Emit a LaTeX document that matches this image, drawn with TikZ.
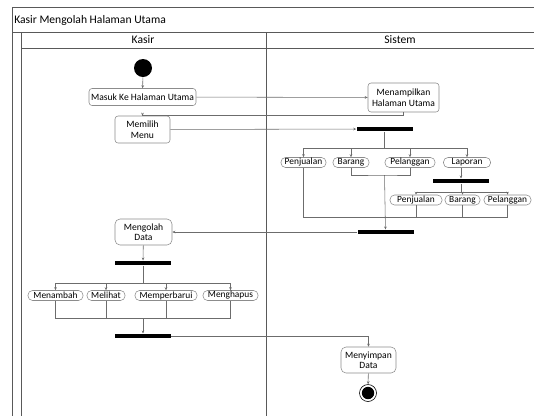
\documentclass[tikz,border=0pt]{standalone}
\usepackage{fontspec}
\setmainfont{Carlito}
\usepackage{tikz}
\usetikzlibrary{arrows.meta,positioning}

\tikzset{
  act/.style={draw=gray!90,rounded corners=3pt,fill=white,align=center,inner sep=1pt,font=\fontsize{9.6}{10.5}\selectfont},
  opt/.style={draw=gray!90,rounded corners=4.5pt,fill=white,inner sep=0pt,minimum height=10pt,font=\fontsize{9.4}{10}\selectfont},
  bar/.style={fill=black,inner sep=0pt,minimum width=56pt,minimum height=4.5pt},
  frame/.style={draw=black!65,line width=0.6pt},
}

\begin{document}
\begin{tikzpicture}[x=1pt,y=-1pt,->,>={Stealth[length=3pt,width=2.6pt]},line width=0.55pt,draw=gray!85!black]
  \useasboundingbox (0,0) rectangle (534,416);
  % frame and lanes
  \draw[-,frame] (534,7) -- (12,7) -- (12,416);
  \draw[-,frame] (12,32) -- (534,32);
  \draw[-,frame] (21,32) -- (21,416);
  \draw[-,frame] (21,48) -- (534,48);
  \draw[-,frame] (266,32) -- (266,416);
  \node[anchor=west,inner sep=1pt,font=\fontsize{11.6}{12}\selectfont] (title) at (13,20) {Kasir Mengolah Halaman Utama};
  \node[font=\fontsize{11.6}{12}\selectfont] (kasir) at (143,40) {Kasir};
  \node[font=\fontsize{11.6}{12}\selectfont] (sistem) at (400,40) {Sistem};

  % kasir lane
  \node[circle,fill=black,inner sep=0pt,minimum size=18pt] (start) at (143,68) {};
  \node[act,minimum width=107pt,minimum height=17pt] (masuk) at (142.5,97) {Masuk Ke Halaman Utama};
  \node[act,minimum width=55pt,minimum height=27pt] (pilih) at (142.5,129.5) {Memilih\\Menu};
  \node[act,rounded corners=5pt,minimum width=57pt,minimum height=26pt] (olah) at (143.5,232) {Mengolah\\Data};
  \node[bar] (f3) at (143,263) {};
  \node[opt,minimum width=55pt] (tambah) at (55.5,295.5) {Menambah};
  \node[opt,minimum width=38pt] (lihat) at (106,295.5) {Melihat};
  \node[opt,minimum width=62pt] (ubah) at (166,295.5) {Memperbarui};
  \node[opt,minimum width=55pt] (hapus) at (230.5,295.5) {Menghapus};
  \node[bar] (j3) at (143,336) {};

  % sistem lane
  \node[act,minimum width=71pt,minimum height=29pt] (tampil) at (403.5,97.5) {Menampilkan\\Halaman Utama};
  \node[bar] (f1) at (384.5,129) {};
  \node[opt,minimum width=45pt] (jual) at (303.5,162.5) {Penjualan};
  \node[opt,minimum width=36pt] (barang) at (351,162.5) {Barang};
  \node[opt,minimum width=50pt] (plg) at (410,162.5) {Pelanggan};
  \node[opt,minimum width=47pt] (lapor) at (467,162.5) {Laporan};
  \node[bar] (f2) at (461,181) {};
  \node[opt,minimum width=52pt] (ljual) at (416,200) {Penjualan};
  \node[opt,minimum width=35pt] (lbarang) at (462.5,200) {Barang};
  \node[opt,minimum width=47pt] (lplg) at (507.5,200) {Pelanggan};
  \node[bar] (j1) at (385.5,232) {};
  \node[act,rounded corners=5pt,minimum width=55pt,minimum height=26pt] (simpan) at (368.5,360) {Menyimpan\\Data};
  \node[circle,draw=black,line width=0.6pt,inner sep=0pt,minimum size=17pt] (stop) at (368,393) {};
  \fill (stop) circle (6.2pt);

  \coordinate (b1) at (384.5,148);
  \coordinate (m1) at (384.5,175);
  \coordinate (m2) at (303.5,217);
  \coordinate (b2) at (461,192);
  \coordinate (b3) at (143,283);
  \coordinate (m3) at (143,318);

  \path (start) edge (masuk)
        (masuk) edge (tampil)
        (pilih) edge (f1);
  \draw (tampil.south) -- ++(0,2.5) -| (pilih.north);
  \draw[-] (f1) -- (b1);
  \draw (b1) -| (jual);
  \draw (b1) -| (barang);
  \draw (b1) -| (plg);
  \draw (b1) -| (lapor);
  \draw (lapor.south -| f2) -- (f2);
  \draw[-] (f2) -- (b2);
  \draw (b2) -| (ljual);
  \draw (b2) -| (lbarang);
  \draw (b2) -| (lplg);
  \draw[-] (barang) |- (m1) -| (plg);
  \draw[-] (jual) |- (m2) -| (lplg);
  \draw[-] (ljual) -- (ljual |- m2);
  \draw[-] (lbarang) -- (lbarang |- m2);
  \draw (m1) -- (j1);
  \draw (j1) -- (olah);
  \draw (olah) -- (f3);
  \draw[-] (f3) -- (b3);
  \draw (b3) -| (tambah);
  \draw (b3) -| (lihat);
  \draw (b3) -| (ubah);
  \draw (b3) -| (hapus);
  \draw[-] (tambah) |- (m3) -| (hapus);
  \draw[-] (lihat) -- (lihat |- m3);
  \draw[-] (ubah) -- (ubah |- m3);
  \draw (m3) -- (j3);
  \draw (j3) -| (simpan);
  \draw (simpan) -- (stop);
\end{tikzpicture}
\end{document}
